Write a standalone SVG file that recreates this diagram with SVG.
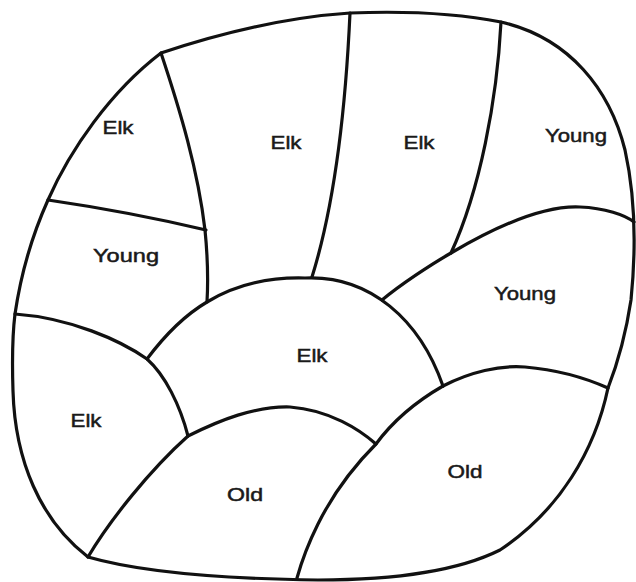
<svg xmlns="http://www.w3.org/2000/svg" width="636" height="582" viewBox="0 0 636 582">
<style>
.ln{fill:none;stroke:#111;stroke-width:3.2;stroke-linecap:round;stroke-linejoin:round}
.lb{font-family:"Liberation Sans",Arial,sans-serif;font-size:19px;fill:#1a1a1a;text-anchor:middle;stroke:#1a1a1a;stroke-width:0.5}
</style>
<rect width="636" height="582" fill="#fff"/>
<g id="connectors">
<path class="ln" d="M161,53 C230,30 290,17 350,13 C400,11 455,13 501,22 C570,38 610,90 625,150 C635,195 636,250 631,300 C625,340 615,370 608,388 C595,450 560,510 500,550 C450,575 380,580 318,580 C240,579 150,575 88,557 C40,520 15,460 13,391 C12,360 13,330 15,314 C20,280 30,240 48,200 C70,150 110,92 161,53 Z"/>
<path class="ln" d="M161,53 C180,110 198,170 205,230 C208,260 208,285 207,302"/>
<path class="ln" d="M48,200 Q130,212 206,230"/>
<path class="ln" d="M350,13 C346,100 336,200 312,277"/>
<path class="ln" d="M501,22 C497,100 480,190 451,253"/>
<path class="ln" d="M382,300 C400,285 430,265 451,253 C490,230 540,205 580,207 C605,208 625,215 634,222"/>
<path class="ln" d="M147,359 C165,335 185,315 207,302 C235,285 270,277 305,278 C370,275 420,320 443,386"/>
<path class="ln" d="M15,314 C70,318 120,340 147,359 C165,375 180,405 188,436"/>
<path class="ln" d="M188,436 C220,420 255,406 290,407 C330,410 360,430 376,444"/>
<path class="ln" d="M188,436 C150,470 110,520 88,557"/>
<path class="ln" d="M443,386 C470,372 500,365 525,367 C560,370 590,380 608,388"/>
<path class="ln" d="M443,386 C410,405 390,425 376,444 C350,470 330,500 318,524 C310,540 302,560 297,578"/>
</g>
<g id="region-elk-1"><text class="lb" x="118" y="134" textLength="31" lengthAdjust="spacingAndGlyphs">Elk</text></g>
<g id="region-elk-2"><text class="lb" x="286" y="149" textLength="31" lengthAdjust="spacingAndGlyphs">Elk</text></g>
<g id="region-elk-3"><text class="lb" x="419" y="149" textLength="31" lengthAdjust="spacingAndGlyphs">Elk</text></g>
<g id="region-young-1"><text class="lb" x="576" y="142" textLength="62" lengthAdjust="spacingAndGlyphs">Young</text></g>
<g id="region-young-2"><text class="lb" x="126" y="262" textLength="66" lengthAdjust="spacingAndGlyphs">Young</text></g>
<g id="region-young-3"><text class="lb" x="525" y="300" textLength="62" lengthAdjust="spacingAndGlyphs">Young</text></g>
<g id="region-elk-4"><text class="lb" x="312" y="362" textLength="31" lengthAdjust="spacingAndGlyphs">Elk</text></g>
<g id="region-elk-5"><text class="lb" x="86" y="427" textLength="31" lengthAdjust="spacingAndGlyphs">Elk</text></g>
<g id="region-old-1"><text class="lb" x="245" y="501" textLength="36" lengthAdjust="spacingAndGlyphs">Old</text></g>
<g id="region-old-2"><text class="lb" x="465" y="478" textLength="35" lengthAdjust="spacingAndGlyphs">Old</text></g>
</svg>
